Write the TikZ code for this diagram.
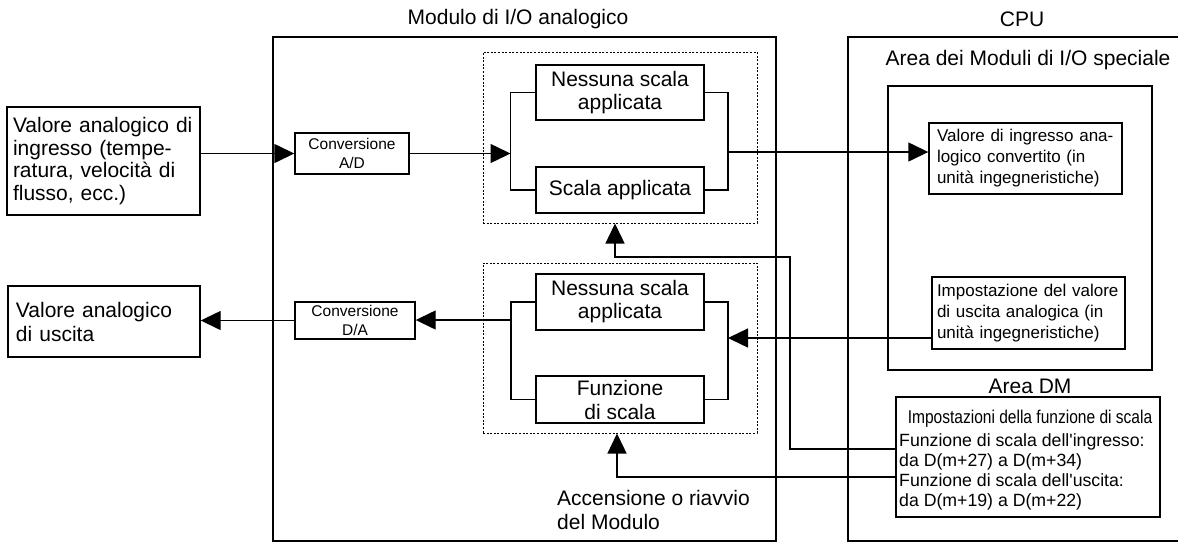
\documentclass[tikz,border=0pt]{standalone}
\usepackage{fontspec}
\setmainfont{Liberation Sans}
\newfontfamily\narrowfont[FakeStretch=0.84]{Liberation Sans}
\newfontfamily\plainfont{Liberation Sans}
\usetikzlibrary{arrows.meta}
\begin{document}
\begin{tikzpicture}[x=1pt,y=-1pt,
  frame/.style={draw, line width=1.4pt, inner sep=0pt},
  box/.style={draw, line width=1.4pt, inner sep=0pt, align=center},
  lbox/.style={draw, line width=1.4pt, inner ysep=0pt, align=left},
  dotbox/.style={draw, line width=1pt, dash pattern=on 2pt off 1.6pt, inner sep=0pt},
  wire/.style={line width=1.4pt},
  arr/.style={line width=1.4pt, -{Triangle[length=20pt,width=19pt]}},
  big/.style={font=\fontsize{21}{23}\selectfont},
  med/.style={font=\fontsize{17}{21}\selectfont},
  small/.style={font=\fontsize{15.5}{19}\selectfont}
]
\useasboundingbox (0,0) rectangle (1178,542);

% titles
\node[big] (tmod) at (518,19) {Modulo di I/O analogico};
\node[big] (tcpu) at (1022,19) {CPU};

% frames
\node[frame, minimum width=503pt, minimum height=504pt] (mod) at (524.5,289) {};
\coordinate (cpuTR) at (1190,37);
\coordinate (cpuBL) at (848,541);
\coordinate (cpuBR) at (1190,541);
\draw[wire] (cpuTR) -| (cpuBL) -- (cpuBR);

\node[big] (tarea) at (1028,60) {Area dei Moduli di I/O speciale};
\node[frame, minimum width=264pt, minimum height=284pt] (area) at (1020,228) {};
\node[lbox, med, minimum width=193pt, minimum height=71pt, text width=177pt, inner xsep=8pt] (vin) at (1025.5,158.5)
  {Valore di ingresso ana-\\logico convertito (in\\unità ingegneristiche)};
\node[lbox, med, minimum width=193pt, minimum height=72pt, text width=183pt, inner xsep=5pt] (imp) at (1028.5,313)
  {Impostazione del valore\\di uscita analogica (in\\unità ingegneristiche)};

\node[big] (tdm) at (1030,386) {Area DM};
\node[frame, minimum width=264pt, minimum height=120pt] (dm) at (1028,457) {};
\node[font=\narrowfont\fontsize{18.5}{20}\selectfont] (dmt) at (1030,419) {Impostazioni della funzione di scala};
\node[anchor=west, inner sep=0pt, align=left, font=\plainfont\fontsize{17.7}{20}\selectfont] (dml) at (899,472)
  {Funzione di scala dell'ingresso:\\da D(m+27) a D(m+34)\\Funzione di scala dell'uscita:\\da D(m+19) a D(m+22)};

% left boxes
\node[lbox, font=\fontsize{21}{22.4}\selectfont, minimum width=193pt, minimum height=108pt, text width=181pt, inner xsep=6pt] (inbox) at (103.5,161)
  {Valore analogico di\\ingresso (tempe-\\ratura, velocità di\\flusso, ecc.)};
\node[lbox, font=\fontsize{21}{24}\selectfont, minimum width=192pt, minimum height=71pt, text width=176pt, inner xsep=8pt] (outbox) at (104,321.5)
  {Valore analogico\\di uscita};

\node[box, small, minimum width=114pt, minimum height=41pt] (ad) at (352,153.5) {Conversione\\A/D};
\node[box, small, minimum width=120pt, minimum height=37pt] (da) at (355,320.5) {Conversione\\D/A};

% scaling blocks
\node[dotbox, minimum width=274pt, minimum height=171pt] (dot1) at (620,137.5) {};
\node[dotbox, minimum width=274pt, minimum height=170pt] (dot2) at (620,348) {};
\node[box, big, minimum width=168pt, minimum height=55pt] (nes1) at (620,92.5) {Nessuna scala\\applicata};
\node[box, big, minimum width=168pt, minimum height=46pt] (sca1) at (620,190) {Scala applicata};
\node[box, big, minimum width=168pt, minimum height=56pt] (nes2) at (620,302) {Nessuna scala\\applicata};
\node[box, font=\fontsize{21}{24}\selectfont, minimum width=168pt, minimum height=47pt] (fun2) at (620,399.5) {Funzione\\di scala};

\node[anchor=west, inner sep=0pt, align=left, font=\fontsize{21}{24}\selectfont] (acc) at (557,510)
  {Accensione o riavvio\\del Modulo};

% helper coordinates
\coordinate (bl1) at (510.5,154);
\coordinate (br1) at (728,152);
\coordinate (bl2) at (511,320);
\coordinate (br2) at (728,338);
\coordinate (c615) at (615,0);
\coordinate (c617) at (617,0);
\coordinate (c790) at (790,257);
\coordinate (f1) at (0,449);
\coordinate (f2) at (0,477);

% connectors
\draw[arr] (inbox.east |- ad.west) -- (ad.west);
\draw[arr] (ad.east) -- (bl1 |- ad.east);
\draw[wire] (nes1.west) -| (bl1) |- (sca1.west);
\draw[wire] (nes1.east) -| (br1) |- (sca1.east);
\draw[arr] (br1) -- (br1 -| vin.west);

\draw[wire] (nes2.west) -| (bl2) |- (fun2.west);
\draw[arr] (bl2) -- (bl2 -| da.east);
\draw[arr] (da.west) -- (da.west -| outbox.east);
\draw[wire] (nes2.east) -| (br2) |- (fun2.east);
\draw[arr] (br2 -| imp.west) -- (br2);

\draw[arr] (dm.west |- f1) -| (c790) -| (dot1.south -| c615);
\draw[arr] (dm.west |- f2) -| (dot2.south -| c617);
\end{tikzpicture}
\end{document}
